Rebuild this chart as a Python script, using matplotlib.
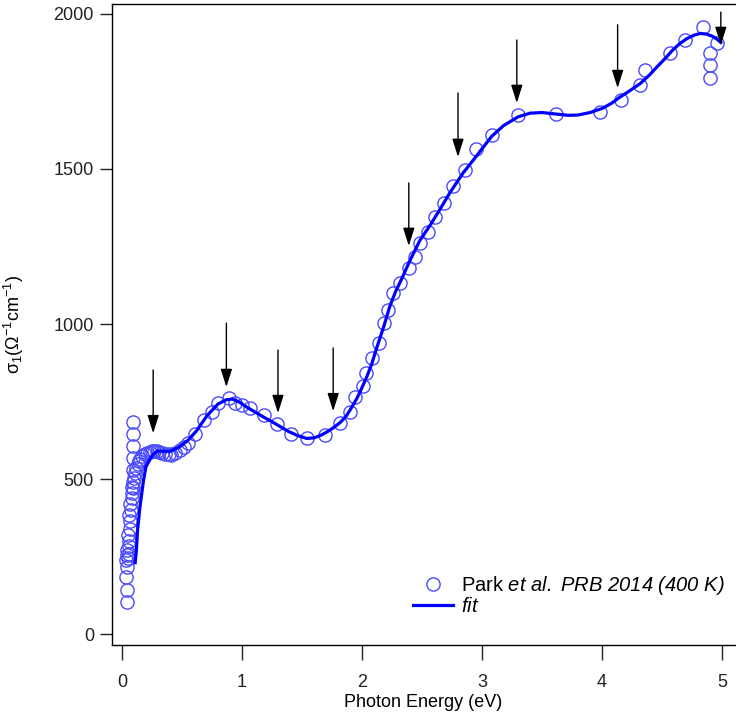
import numpy as np
import matplotlib
matplotlib.use("Agg")
import matplotlib.pyplot as plt

plt.rcParams['font.family'] = ['Liberation Sans', 'DejaVu Sans']
plt.rcParams['mathtext.fontset'] = 'custom'
plt.rcParams['mathtext.rm'] = 'Liberation Sans:italic'
plt.rcParams['mathtext.it'] = 'Liberation Sans:italic'

# measured data (Park et al. PRB 2014, 400 K)
park_e = [0.04, 0.04, 0.035, 0.04, 0.03, 0.045, 0.04, 0.05, 0.06, 0.055, 0.06, 0.05,
          0.065, 0.07, 0.06, 0.075, 0.07, 0.08, 0.085, 0.09, 0.08, 0.095, 0.10, 0.11,
          0.12, 0.13, 0.14, 0.15, 0.17, 0.19, 0.21, 0.23, 0.25, 0.27, 0.29, 0.31,
          0.33, 0.36, 0.39, 0.41, 0.44, 0.48, 0.52, 0.55, 0.61, 0.68, 0.75, 0.80,
          0.89, 0.94, 1.00, 1.07, 1.18, 1.29, 1.41, 1.54, 1.69, 1.82, 1.90, 1.94,
          2.01, 2.03, 2.08, 2.14, 2.18, 2.22, 2.26, 2.32, 2.39, 2.44, 2.48, 2.55,
          2.61, 2.68, 2.76, 2.86, 2.95, 3.08, 3.30, 3.62, 3.98, 4.16, 4.32, 4.36,
          4.57, 4.69, 4.84, 4.96, 4.90, 4.90, 4.90,
          0.09, 0.09, 0.09, 0.09, 0.09]
park_s = [104, 142, 185, 217, 240, 255, 270, 245, 260, 285, 300, 320,
          340, 365, 385, 400, 420, 440, 455, 470, 475, 490, 505, 520,
          535, 548, 558, 566, 574, 580, 585, 588, 590, 592, 590, 587,
          584, 580, 580, 577, 583, 594, 604, 615, 647, 690, 717, 744,
          760, 744, 738, 728, 706, 679, 647, 631, 642, 680, 717, 766,
          800, 841, 889, 940, 1002, 1045, 1099, 1131, 1180, 1217, 1260, 1298,
          1346, 1389, 1445, 1497, 1565, 1610, 1674, 1677, 1685, 1722, 1771, 1819,
          1873, 1917, 1959, 1905, 1873, 1835, 1792,
          529, 567, 607, 646, 685]

# fit curve
fit_e = [0.11, 0.12, 0.13, 0.15, 0.18, 0.20, 0.25, 0.29, 0.35, 0.40, 0.48, 0.55,
         0.62, 0.71, 0.80, 0.87, 0.92, 0.98, 1.04, 1.11, 1.18, 1.25, 1.32, 1.39,
         1.46, 1.54, 1.60, 1.65, 1.70, 1.76, 1.82, 1.87, 1.92, 1.96, 2.00, 2.04,
         2.08, 2.12, 2.18, 2.23, 2.28, 2.33, 2.40, 2.48, 2.57, 2.65, 2.73, 2.84,
         2.93, 3.00, 3.08, 3.18, 3.30, 3.40, 3.50, 3.62, 3.72, 3.80, 3.90, 4.00,
         4.08, 4.15, 4.23, 4.32, 4.40, 4.46, 4.53, 4.59, 4.65, 4.71, 4.77, 4.82,
         4.87, 4.92, 4.96, 4.99]
fit_s = [230, 270, 335, 411, 497, 540, 575, 590, 590, 589, 604, 625,
         655, 705, 742, 756, 758, 748, 732, 716, 700, 685, 669, 653,
         641, 631, 633, 640, 650, 665, 683, 704, 735, 762, 795, 830,
         870, 920, 990, 1055, 1105, 1145, 1205, 1268, 1320, 1370, 1422, 1486,
         1530, 1565, 1605, 1640, 1668, 1680, 1682, 1677, 1673, 1674, 1682, 1695,
         1712, 1732, 1752, 1776, 1805, 1830, 1858, 1884, 1905, 1921, 1932, 1937,
         1935, 1928, 1918, 1908]

# arrows: energy, tail, tip
arrow_e = [0.26, 0.87, 1.30, 1.76, 2.39, 2.80, 3.29, 4.13, 4.99]
arrow_tail = [852, 1003, 916, 923, 1455, 1745, 1916, 1965, 2006]
arrow_tip = [648, 797, 713, 719, 1252, 1539, 1713, 1761, 1900]

fig = plt.figure(figsize=(7.36, 7.19), dpi=100)
ax = fig.add_axes([112/736, 1 - 645/719, 623/736, 641/719])

ax.plot(park_e, park_s, linestyle='none', marker='o', markersize=9.5,
        markerfacecolor='none', markeredgecolor='#4a4aff', markeredgewidth=1.0,
        label=r'Park $et\ al.$ $PRB\ 2014\ (400\ K)$')
ax.plot(fit_e, fit_s, color='#0000ff', linewidth=2.3, label=r'$fit$')

for e, t0, t1 in zip(arrow_e, arrow_tail, arrow_tip):
    ax.annotate('', xy=(e, t1), xytext=(e, t0),
                arrowprops=dict(arrowstyle='-|>,head_length=1.1,head_width=0.35',
                                color='black', lw=1.0, shrinkA=0, shrinkB=0))

ax.set_xlim(-0.083, 5.108)
ax.set_ylim(-35, 2032)
ax.set_xticks([0, 1, 2, 3, 4, 5])
ax.set_yticks([0, 500, 1000, 1500, 2000])
ax.tick_params(direction='out', width=1, labelsize=13, colors='#222222')
ax.tick_params(axis='x', length=11, pad=10)
ax.tick_params(axis='y', length=9, pad=4)
ax.spines['right'].set_visible(False)
for s in ['left', 'bottom', 'top']:
    ax.spines[s].set_linewidth(1.0)

ax.set_xlabel('Photon Energy (eV)', fontsize=13, labelpad=2)
ax.set_ylabel(r'$\mathregular{σ_1(Ω^{-1}cm^{-1})}$', fontsize=13, labelpad=20)

ax.legend(loc='lower right', bbox_to_anchor=(1.0, 0.03), frameon=False,
          fontsize=14.5, handlelength=2.0, handletextpad=0.4, labelspacing=0.0,
          borderaxespad=0.1)

fig.savefig('out.png', dpi=100)
